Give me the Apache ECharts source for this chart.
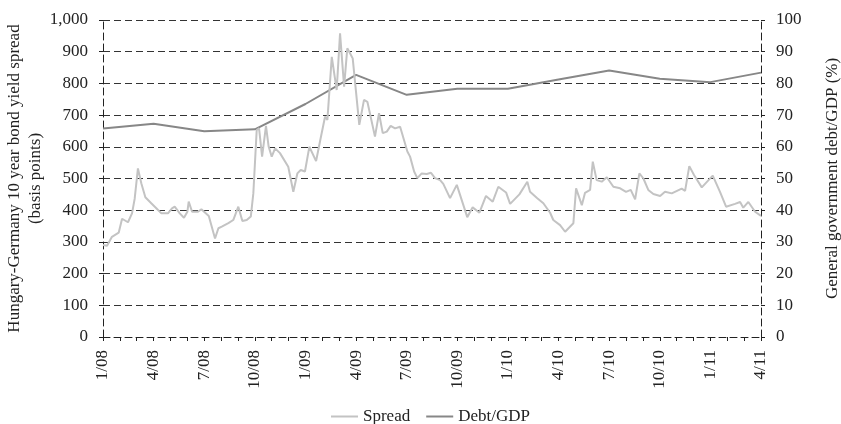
<!DOCTYPE html>
<head>
  <meta charset="utf-8">
  <title>Hungary-Germany spread vs Debt/GDP</title>
  <script src="https://cdn.jsdelivr.net/npm/echarts@6/dist/echarts.min.js"></script>
  <style>
    body { margin: 0; background: #fff; }
  </style>
</head>
<body>
  <div id="main" style="width: 841px;height:424px;"></div>
  <script>
    // x positions are months since Jan 2008
    var xLabels = ['1/08', '4/08', '7/08', '10/08', '1/09', '4/09', '7/09', '10/09',
                   '1/10', '4/10', '7/10', '10/10', '1/11', '4/11'];

    var spreadT = [0, 0.24, 0.53, 0.93, 1.13, 1.48, 1.72, 1.88, 2.07, 2.27, 2.51, 2.86, 3.16, 3.46, 3.85,
      4.09, 4.25, 4.55, 4.8, 5.0, 5.08, 5.28, 5.63, 5.83, 6.27, 6.64, 6.84, 7.04, 7.43, 7.72, 8.02,
      8.26, 8.52, 8.76, 8.91, 9.11, 9.25, 9.43, 9.66, 9.82, 10.0, 10.2, 10.49, 10.98, 11.28, 11.52,
      11.72, 11.97, 12.23, 12.63, 12.9, 13.16, 13.3, 13.56, 13.85, 14.05, 14.29, 14.48, 14.64, 14.8,
      15.19, 15.47, 15.67, 16.12, 16.36, 16.58, 16.82, 17.05, 17.31, 17.61, 18.04, 18.2, 18.44, 18.63,
      18.89, 19.19, 19.44, 19.68, 19.98, 20.17, 20.57, 20.97, 21.59, 21.91, 22.31, 22.7, 23.1, 23.43,
      23.89, 24.13, 24.68, 25.15, 25.31, 25.74, 26.1, 26.5, 26.69, 27.09, 27.39, 27.88, 28.04, 28.38,
      28.57, 28.87, 29.03, 29.26, 29.56, 29.86, 30.25, 30.65, 31.0, 31.28, 31.54, 31.79, 32.03, 32.32,
      32.62, 33.02, 33.31, 33.71, 34.3, 34.5, 34.75, 35.03, 35.49, 36.14, 36.57, 36.93, 37.46, 37.76,
      37.95, 38.25, 38.65, 39];
    var spreadBp = [290, 288, 316, 329, 373, 362, 390, 437, 532, 485, 441, 422, 406, 390, 390,
      406, 411, 390, 376, 395, 427, 395, 395, 403, 382, 311, 343, 348, 359, 369, 411,
      366, 369, 380, 453, 653, 658, 569, 666, 600, 569, 595, 580, 537, 458, 516,
      527, 522, 600, 555, 627, 695, 685, 884, 779, 958, 790, 911, 895, 879,
      669, 748, 742, 632, 706, 643, 648, 666, 658, 663, 585, 569, 522, 501,
      516, 514, 518, 501, 495, 483, 438, 480, 378, 409, 392, 445, 427, 474,
      456, 420, 450, 490, 458, 438, 422, 392, 369, 353, 332, 359, 469, 416,
      455, 464, 553, 495, 490, 504, 474, 469, 458, 464, 434, 516, 500, 464,
      451, 445, 458, 453, 468, 461, 539, 511, 472, 509, 458, 411, 420, 426,
      408, 426, 395, 382];

    var debtT = [0, 3, 6, 9, 12, 15, 18, 21, 24, 27, 30, 33, 36, 39];
    var debtPct = [65.8, 67.3, 64.9, 65.5, 73.5, 82.7, 76.4, 78.3, 78.3, 81.2, 84.1, 81.5, 80.4, 83.4];

    var font = 'Liberation Serif';
    var fs = 17;
    var dash = [7, 4];
    var ink = '#222';

    var myChart = echarts.init(document.getElementById('main'));

    option = {
      animation: false,
      textStyle: { fontFamily: font, color: ink },
      grid: { left: 103, right: 80, top: 20, bottom: 87, containLabel: false, outerBoundsMode: 'none' },
      legend: {
        top: 403,
        left: 326,
        data: ['Spread', 'Debt/GDP'],
        icon: 'rect',
        itemWidth: 27,
        itemHeight: 2,
        itemGap: 16,
        textStyle: { fontFamily: font, fontSize: fs, color: ink }
      },
      xAxis: {
        type: 'value',
        min: 0,
        max: 39,
        interval: 3,
        axisLine: { show: true, onZero: false, lineStyle: { color: ink, type: dash } },
        axisTick: { show: true, length: 4, lineStyle: { color: ink } },
        minorTick: { show: true, splitNumber: 3, length: 4, lineStyle: { color: ink } },
        splitLine: { show: false },
        axisLabel: {
          rotate: 90,
          margin: 13,
          fontFamily: font,
          fontSize: fs,
          color: ink,
          formatter: function (v) { return xLabels[Math.round(v / 3)]; }
        }
      },
      yAxis: [{
        type: 'value',
        min: 0,
        max: 1000,
        interval: 100,
        name: 'Hungary-Germany 10 year bond yield spread\n(basis points)',
        nameLocation: 'middle',
        nameGap: 57,
        nameMoveOverlap: false,
        nameTextStyle: { fontFamily: font, fontSize: fs, color: ink, lineHeight: 21 },
        axisLine: { show: true, lineStyle: { color: ink, type: dash } },
        axisTick: { show: true, length: 4, lineStyle: { color: ink } },
        splitLine: { show: true, lineStyle: { color: '#333', type: dash, width: 1 } },
        axisLabel: {
          margin: 15,
          fontFamily: font,
          fontSize: fs,
          color: ink,
          formatter: function (v) { return v.toLocaleString('en-US'); }
        }
      }, {
        type: 'value',
        min: 0,
        max: 100,
        interval: 10,
        position: 'right',
        name: 'General government debt/GDP (%)',
        nameLocation: 'middle',
        nameGap: 63,
        nameRotate: 90,
        nameMoveOverlap: false,
        nameTextStyle: { fontFamily: font, fontSize: fs, color: ink },
        axisLine: { show: true, lineStyle: { color: ink, type: dash } },
        axisTick: { show: true, length: 4, lineStyle: { color: ink } },
        splitLine: { show: false },
        axisLabel: { margin: 15, fontFamily: font, fontSize: fs, color: ink }
      }],
      series: [{
        name: 'Debt/GDP',
        type: 'line',
        yAxisIndex: 1,
        z: 2,
        showSymbol: false,
        color: '#878787',
        lineStyle: { color: '#878787', width: 2 },
        data: debtT.map(function (t, i) { return [t, debtPct[i]]; })
      }, {
        name: 'Spread',
        type: 'line',
        yAxisIndex: 0,
        z: 3,
        showSymbol: false,
        color: '#c3c3c3',
        lineStyle: { color: '#c3c3c3', width: 2 },
        data: spreadT.map(function (t, i) { return [t, spreadBp[i]]; })
      }]
    };

    myChart.setOption(option);
  </script>
</body>
